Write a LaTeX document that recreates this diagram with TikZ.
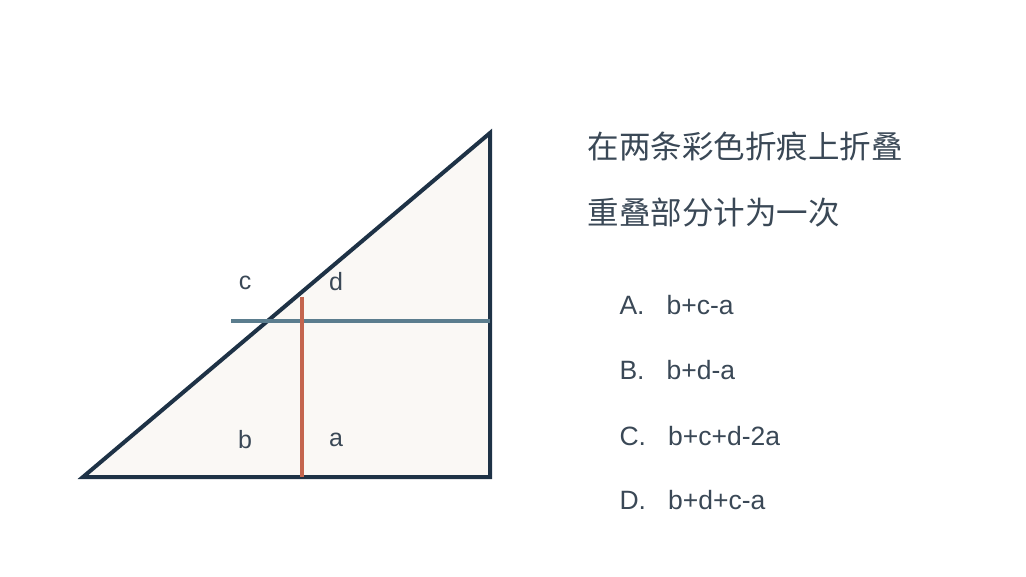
\documentclass[tikz,border=0pt]{standalone}
\usepackage{fontspec}
\setmainfont{Liberation Sans}
\newfontfamily\cjk{Noto Sans CJK SC}
\definecolor{edgecol}{HTML}{1E3246}
\definecolor{papercol}{HTML}{FAF8F5}
\definecolor{foldblue}{HTML}{5B7D8E}
\definecolor{foldred}{HTML}{C4654E}
\definecolor{textcol}{HTML}{3A4856}
\tikzset{
	region/.style={font=\fontsize{25}{25}\selectfont, text=textcol},
	option/.style={anchor=west, font=\fontsize{26.5}{26.5}\selectfont, text=textcol},
	question/.style={anchor=west, font=\cjk\fontsize{31.5}{31.5}\selectfont, text=textcol}
}
\begin{document}
\begin{tikzpicture}[x=1pt, y=-1pt]
	\useasboundingbox (0,0) rectangle (1026,577);
	
	% Corners of the paper
	\coordinate (left) at (83,477);
	\coordinate (top) at (490,133);
	\coordinate (right) at (490,477);
	
	% Ends of the folds
	\coordinate (h1) at (231,321);
	\coordinate (h2) at (490,321);
	\coordinate (v1) at (302,297);
	\coordinate (v2) at (302,477);
	
	% Triangle
	\draw[line width=4pt, edgecol, fill=papercol, line join=miter] (left) -- (top) -- (right) -- cycle;
	
	% Folds
	\draw[line width=3.5pt, foldblue] (h1) -- (h2);
	\draw[line width=3.5pt, foldred] (v1) -- (v2);
	
	% Region labels
	\node[region] (c) at (245,283) {c};
	\node[region] (d) at (336,282) {d};
	\node[region] (b) at (245,440) {b};
	\node[region] (a) at (336,440) {a};
	
	% Question
	\node[question] (q1) at (584,147) {在两条彩色折痕上折叠};
	\node[question] (q2) at (584,213) {重叠部分计为一次};
	
	% Options
	\node[option] (optA) at (616,305) {A.~~~b+c-a};
	\node[option] (optB) at (616,370) {B.~~~b+d-a};
	\node[option] (optC) at (616,436) {C.~~~b+c+d-2a};
	\node[option] (optD) at (616,500) {D.~~~b+d+c-a};
	
\end{tikzpicture}
\end{document}
